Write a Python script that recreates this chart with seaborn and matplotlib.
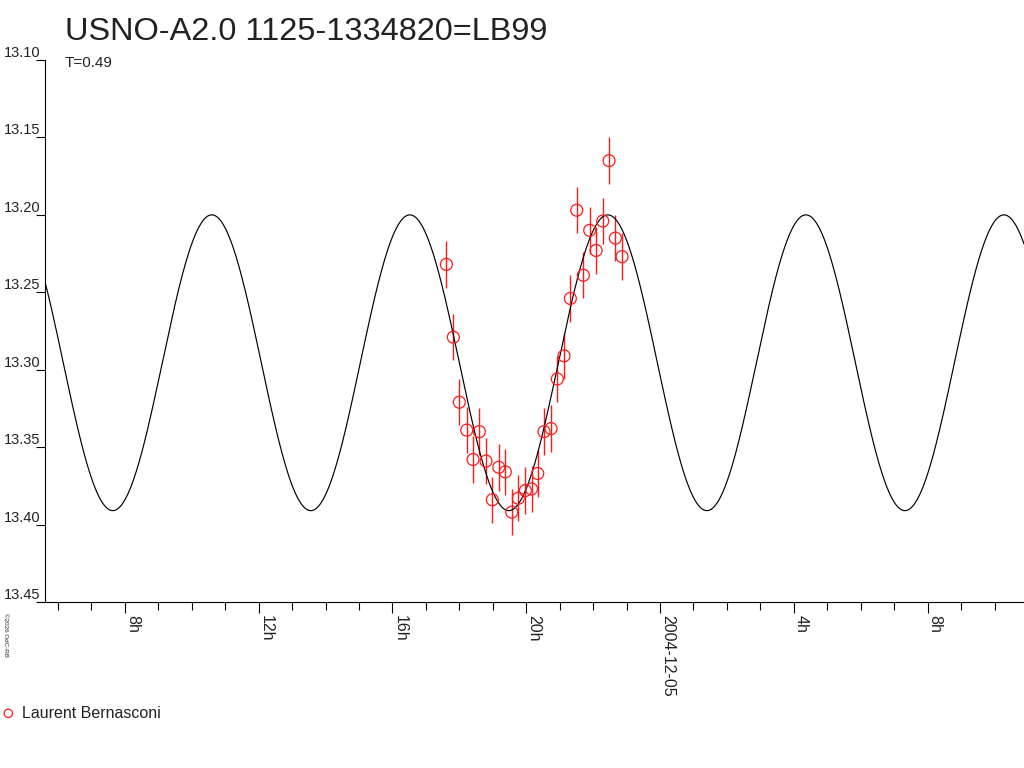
import numpy as np
import pandas as pd
import matplotlib
matplotlib.use("Agg")
import matplotlib.pyplot as plt
from matplotlib.ticker import MultipleLocator, FixedLocator
import seaborn as sns

# ---- data (hours since 2004-12-04 00:00 UT) ----
obs_hours = [17.612, 17.821, 18.000, 18.221, 18.410, 18.598, 18.798, 18.987,
             19.178, 19.375, 19.567, 19.764, 19.973, 20.159, 20.344, 20.532,
             20.741, 20.930, 21.130, 21.318, 21.510, 21.707, 21.898, 22.087,
             22.287, 22.475, 22.664, 22.864]
obs_mag = [13.232, 13.279, 13.321, 13.339, 13.358, 13.340, 13.359, 13.384,
           13.363, 13.366, 13.392, 13.383, 13.378, 13.377, 13.367, 13.340,
           13.338, 13.306, 13.291, 13.254, 13.197, 13.239, 13.210, 13.223,
           13.204, 13.165, 13.215, 13.227]
obs_err = [0.015] * 28

# model light curve parameters
period_h = 5.92
mean_mag = 13.2955
amplitude = 0.0955
t_max_h = 22.44

title = "USNO-A2.0 1125-1334820=LB99"
subtitle = "T=0.49"
observer = "Laurent Bernasconi"
major_hours = [8, 12, 16, 20, 24, 28, 32]
major_labels = ["8h", "12h", "16h", "20h", "2004-12-05", "4h", "8h"]
y_ticks = [13.10, 13.15, 13.20, 13.25, 13.30, 13.35, 13.40, 13.45]
x_range = (5.614, 34.88)
y_range = (13.45, 13.10)

sns.set_theme(style="ticks")
plt.rcParams["font.family"] = ["Liberation Sans", "DejaVu Sans"]

W, H = 1024, 768
fig = plt.figure(figsize=(W / 100, H / 100), dpi=100)
fig.patch.set_facecolor("white")
ax = fig.add_axes([45 / W, (H - 602) / H, (W - 45) / W, (602 - 60) / H])
ax.set_facecolor("white")

t = np.linspace(x_range[0], x_range[1], 2000)
model = pd.DataFrame({
    "t": t,
    "mag": mean_mag - amplitude * np.cos(2 * np.pi * (t - t_max_h) / period_h),
})
df = pd.DataFrame({"t": obs_hours, "mag": obs_mag, "err": obs_err})

ax.errorbar(df["t"], df["mag"], yerr=df["err"], fmt="none",
            ecolor="#ff1a1a", elinewidth=1.0, capsize=0, zorder=2)
sns.lineplot(data=model, x="t", y="mag", color="black", lw=0.85,
             estimator=None, sort=False, ax=ax, zorder=3)
sns.scatterplot(data=df, x="t", y="mag", marker="o", s=74,
                fc="none", ec="#ff1a1a", linewidth=0.9, ax=ax, zorder=4,
                label=observer)

ax.set_xlim(*x_range)
ax.set_ylim(*y_range)
ax.set_xlabel("")
ax.set_ylabel("")

for side in ["top", "right"]:
    ax.spines[side].set_visible(False)
for side in ["left", "bottom"]:
    ax.spines[side].set_color("black")
    ax.spines[side].set_linewidth(0.8)

# y axis
ax.yaxis.set_major_locator(FixedLocator(y_ticks))
ax.set_yticklabels([f"{v:.2f}" for v in y_ticks])
ax.tick_params(axis="y", direction="out", length=6.5, width=0.8,
               pad=-3.0, labelsize=10.5, colors="black", labelcolor="#222222")
for lab in ax.get_yticklabels():
    lab.set_va("bottom")

# x axis
ax.xaxis.set_major_locator(FixedLocator(major_hours))
ax.xaxis.set_minor_locator(MultipleLocator(1))
ax.set_xticklabels(major_labels, rotation=-90, ha="left", va="top")
ax.tick_params(axis="x", which="major", direction="out", length=8, width=0.8,
               pad=1.5, labelsize=11.5, colors="black", labelcolor="#222222")
ax.tick_params(axis="x", which="minor", direction="out", length=5.8,
               width=0.8, colors="black")

fig.text(65 / W, 1 - 40 / H, title, fontsize=23.4, color="#222222",
         ha="left", va="baseline")
fig.text(65 / W, 1 - 67 / H, subtitle, fontsize=11, color="#222222",
         ha="left", va="baseline")
fig.text(3 / W, 1 - 613 / H, "\u00a92026 OdC-RB", fontsize=4.5,
         rotation=-90, ha="left", va="top", color="#222222")

leg = ax.legend(loc="center left", bbox_to_anchor=(2 / W, 1 - 713 / H),
                bbox_transform=fig.transFigure, frameon=False, borderpad=0,
                borderaxespad=0, handlelength=0.8, handletextpad=0.45,
                fontsize=11.5, markerscale=0.7)
for txt in leg.get_texts():
    txt.set_color("#222222")

fig.savefig("out.png", dpi=100, facecolor="white")
